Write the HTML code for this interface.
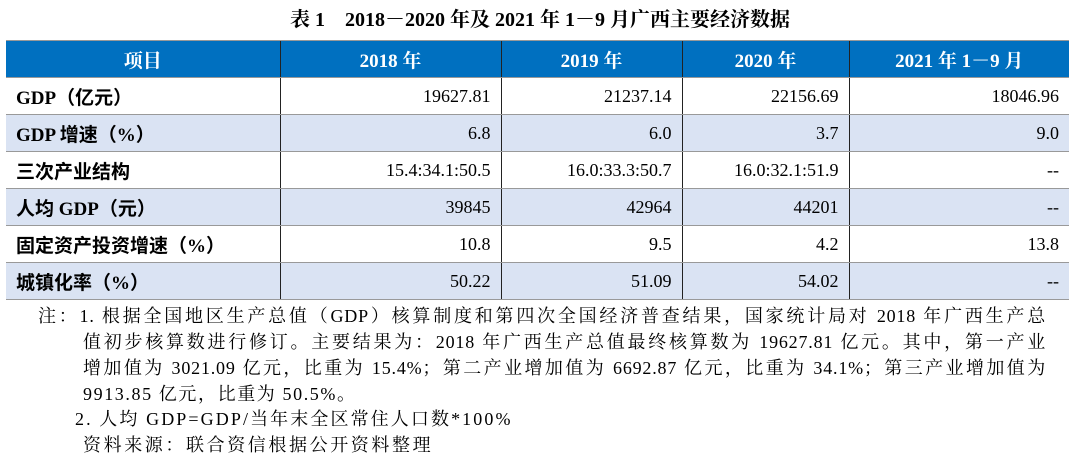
<!DOCTYPE html>
<html><head><meta charset="utf-8"><style>
body{margin:0;width:1080px;height:466px;background:#fff;font-family:"Liberation Serif","Noto Serif CJK SC",serif;color:#000;position:relative;overflow:hidden}
.title{position:absolute;top:3px;left:0;width:1080px;text-align:center;font-size:20px;font-weight:bold}
table{position:absolute;left:6px;top:40px;border-collapse:collapse;width:1063px;font-size:18px;table-layout:fixed}
td,th{height:36px;padding:0 10px;border-top:1.5px solid #999;border-bottom:1.5px solid #999;white-space:nowrap}
th{background:#0070c0;color:#fff;height:36px;font-weight:bold;font-size:19px}
td+td,th+th{border-left:1px solid #222}
td{text-align:right}
td:first-child{text-align:left;font-weight:bold;font-size:19px;font-family:"Liberation Serif","Noto Sans CJK SC",serif}
tr.b td{background:#dae3f3}
.n{position:absolute;font-size:18px;letter-spacing:0.8px;white-space:nowrap}
.j{text-align:justify;text-align-last:justify}
</style></head><body>
<div class="title">表 1　2018－2020 年及 2021 年 1－9 月广西主要经济数据</div>
<table>
<colgroup><col style="width:274px"><col style="width:221px"><col style="width:181px"><col style="width:167px"><col></colgroup>
<tr><th>项目</th><th>2018 年</th><th>2019 年</th><th>2020 年</th><th>2021 年 1－9 月</th></tr>
<tr><td>GDP（亿元）</td><td>19627.81</td><td>21237.14</td><td>22156.69</td><td>18046.96</td></tr>
<tr class="b"><td>GDP 增速（%）</td><td>6.8</td><td>6.0</td><td>3.7</td><td>9.0</td></tr>
<tr><td>三次产业结构</td><td>15.4:34.1:50.5</td><td>16.0:33.3:50.7</td><td>16.0:32.1:51.9</td><td>--</td></tr>
<tr class="b"><td>人均 GDP（元）</td><td>39845</td><td>42964</td><td>44201</td><td>--</td></tr>
<tr><td>固定资产投资增速（%）</td><td>10.8</td><td>9.5</td><td>4.2</td><td>13.8</td></tr>
<tr class="b"><td>城镇化率（%）</td><td>50.22</td><td>51.09</td><td>54.02</td><td>--</td></tr>
</table>
<div class="n j" style="left:38px;top:302px;width:1008px">注：1. 根据全国地区生产总值（GDP）核算制度和第四次全国经济普查结果，国家统计局对 2018 年广西生产总</div>
<div class="n j" style="left:83px;top:328px;width:963px">值初步核算数进行修订。主要结果为：2018 年广西生产总值最终核算数为 19627.81 亿元。其中，第一产业</div>
<div class="n j" style="left:83px;top:354px;width:963px">增加值为 3021.09 亿元，比重为 15.4%；第二产业增加值为 6692.87 亿元，比重为 34.1%；第三产业增加值为</div>
<div class="n" style="left:83px;top:380px;letter-spacing:1.6px">9913.85 亿元，比重为 50.5%。</div>
<div class="n" style="left:75px;top:405px;letter-spacing:2.1px">2. 人均 GDP=GDP/当年末全区常住人口数*100%</div>
<div class="n" style="left:83px;top:431px;letter-spacing:2.6px">资料来源：联合资信根据公开资料整理</div>
</body></html>
